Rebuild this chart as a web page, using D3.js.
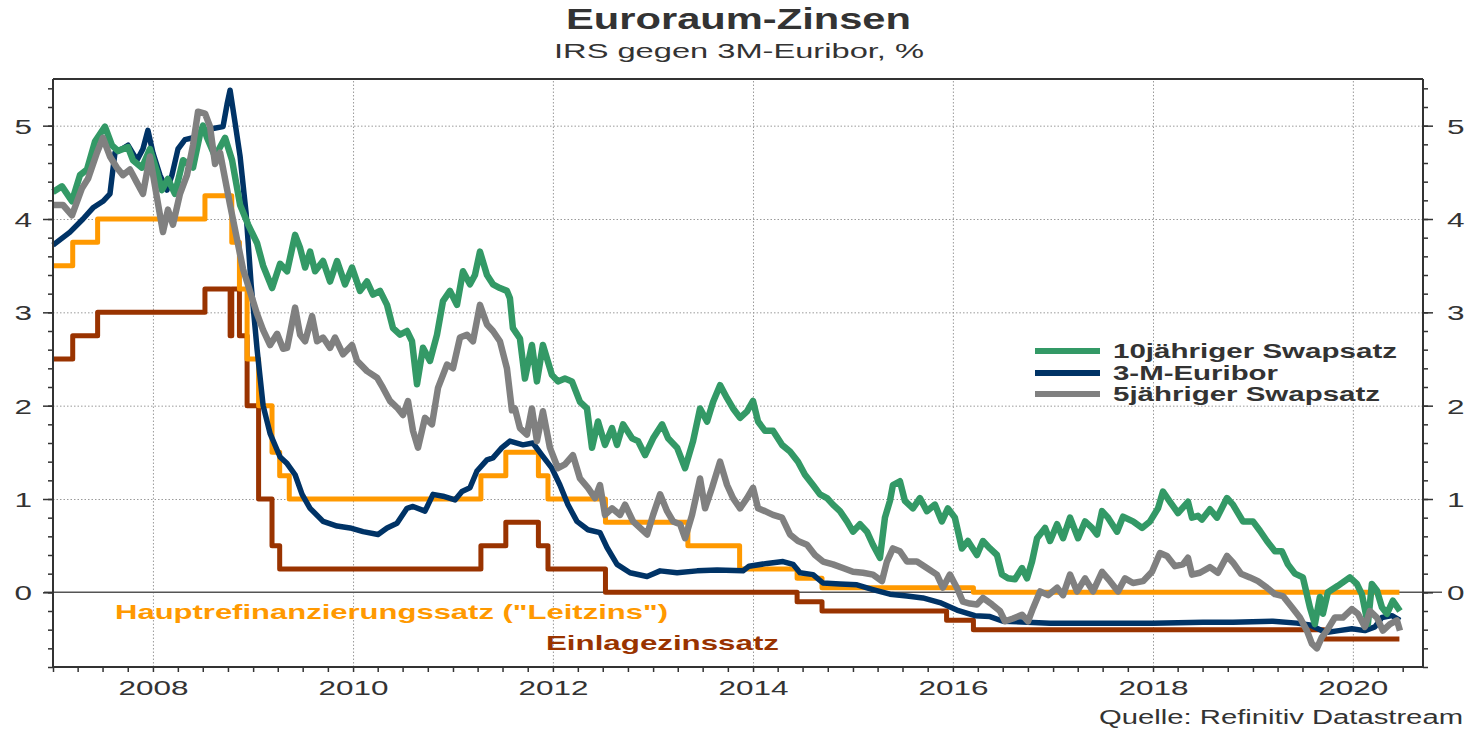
<!DOCTYPE html>
<html><head><meta charset="utf-8">
<script src="https://cdn.jsdelivr.net/npm/d3@7"></script>
<style>
body{margin:0;background:#fff;}
svg{display:block;font-family:"Liberation Sans",Arial,Helvetica,sans-serif;}
</style></head><body>
<svg id="c" width="1473" height="730"></svg>
<script>
// ---------- DATA (decimal year, % ) ----------
const swap10 = [[2007.00,4.29],[2007.09,4.35],[2007.19,4.19],[2007.27,4.47],[2007.34,4.53],[2007.42,4.83],[2007.52,4.99],[2007.59,4.79],[2007.65,4.73],[2007.75,4.77],[2007.80,4.63],[2007.89,4.55],[2007.97,4.75],[2008.04,4.51],[2008.09,4.31],[2008.15,4.43],[2008.22,4.27],[2008.30,4.63],[2008.40,4.55],[2008.47,4.91],[2008.50,5.00],[2008.54,4.87],[2008.62,4.67],[2008.72,4.87],[2008.79,4.63],[2008.87,4.15],[2008.95,3.94],[2009.04,3.74],[2009.10,3.50],[2009.19,3.26],[2009.27,3.52],[2009.34,3.44],[2009.42,3.83],[2009.47,3.69],[2009.52,3.48],[2009.57,3.65],[2009.62,3.44],[2009.70,3.55],[2009.77,3.33],[2009.84,3.55],[2009.92,3.30],[2009.99,3.48],[2010.07,3.23],[2010.14,3.33],[2010.20,3.19],[2010.27,3.23],[2010.34,3.08],[2010.40,2.83],[2010.47,2.76],[2010.54,2.80],[2010.59,2.69],[2010.64,2.23],[2010.70,2.62],[2010.77,2.48],[2010.84,2.76],[2010.90,3.12],[2010.97,3.23],[2011.04,3.08],[2011.10,3.44],[2011.17,3.30],[2011.22,3.40],[2011.27,3.65],[2011.34,3.40],[2011.40,3.30],[2011.47,3.26],[2011.54,3.23],[2011.57,3.15],[2011.60,2.83],[2011.67,2.72],[2011.72,2.29],[2011.79,2.65],[2011.84,2.26],[2011.90,2.65],[2011.99,2.33],[2012.05,2.26],[2012.12,2.29],[2012.19,2.26],[2012.27,2.04],[2012.34,1.97],[2012.39,1.55],[2012.45,1.83],[2012.52,1.58],[2012.59,1.76],[2012.64,1.58],[2012.70,1.80],[2012.79,1.65],[2012.85,1.62],[2012.92,1.47],[2013.00,1.65],[2013.09,1.80],[2013.15,1.65],[2013.24,1.55],[2013.32,1.33],[2013.40,1.62],[2013.47,1.97],[2013.54,1.83],[2013.60,2.04],[2013.67,2.22],[2013.74,2.08],[2013.80,1.97],[2013.87,1.87],[2013.94,1.94],[2014.00,2.05],[2014.05,1.83],[2014.12,1.73],[2014.20,1.73],[2014.29,1.58],[2014.37,1.51],[2014.45,1.40],[2014.52,1.26],[2014.60,1.15],[2014.67,1.05],[2014.74,1.01],[2014.80,0.94],[2014.87,0.87],[2014.94,0.76],[2015.00,0.65],[2015.07,0.73],[2015.14,0.65],[2015.20,0.51],[2015.27,0.37],[2015.32,0.80],[2015.37,0.98],[2015.40,1.15],[2015.47,1.19],[2015.52,0.98],[2015.60,0.90],[2015.67,1.01],[2015.74,0.87],[2015.82,0.94],[2015.89,0.76],[2015.95,0.90],[2016.02,0.80],[2016.09,0.47],[2016.15,0.55],[2016.24,0.40],[2016.30,0.55],[2016.37,0.47],[2016.44,0.40],[2016.49,0.19],[2016.55,0.15],[2016.62,0.14],[2016.69,0.26],[2016.74,0.15],[2016.79,0.33],[2016.84,0.58],[2016.92,0.69],[2016.97,0.55],[2017.04,0.73],[2017.10,0.58],[2017.17,0.80],[2017.25,0.58],[2017.32,0.76],[2017.39,0.69],[2017.44,0.62],[2017.49,0.87],[2017.55,0.80],[2017.64,0.65],[2017.70,0.81],[2017.80,0.76],[2017.89,0.69],[2017.97,0.76],[2018.05,0.90],[2018.10,1.08],[2018.17,0.97],[2018.25,0.85],[2018.35,0.97],[2018.39,0.80],[2018.45,0.82],[2018.49,0.78],[2018.57,0.89],[2018.64,0.80],[2018.74,1.01],[2018.80,0.94],[2018.90,0.76],[2019.00,0.76],[2019.07,0.66],[2019.14,0.55],[2019.22,0.44],[2019.29,0.44],[2019.35,0.30],[2019.42,0.20],[2019.50,0.16],[2019.57,-0.16],[2019.62,-0.34],[2019.67,-0.05],[2019.70,-0.23],[2019.75,0.00],[2019.85,0.07],[2019.97,0.16],[2020.04,0.09],[2020.09,-0.02],[2020.15,-0.34],[2020.19,0.09],[2020.24,0.02],[2020.29,-0.16],[2020.34,-0.23],[2020.40,-0.09],[2020.47,-0.20]];

const swap5 = [[2007.00,4.15],[2007.10,4.15],[2007.19,4.04],[2007.29,4.33],[2007.35,4.43],[2007.44,4.71],[2007.50,4.87],[2007.57,4.67],[2007.64,4.55],[2007.70,4.47],[2007.77,4.53],[2007.84,4.39],[2007.90,4.27],[2007.97,4.67],[2008.04,4.23],[2008.10,3.86],[2008.15,4.10],[2008.20,3.94],[2008.27,4.27],[2008.34,4.47],[2008.40,4.79],[2008.45,5.15],[2008.52,5.13],[2008.57,4.99],[2008.62,4.59],[2008.67,4.71],[2008.72,4.43],[2008.77,4.15],[2008.84,3.78],[2008.90,3.46],[2008.97,3.22],[2009.04,2.98],[2009.10,2.81],[2009.17,2.65],[2009.24,2.77],[2009.30,2.61],[2009.34,2.62],[2009.42,3.05],[2009.47,2.76],[2009.52,2.69],[2009.59,2.96],[2009.64,2.69],[2009.70,2.73],[2009.77,2.62],[2009.82,2.73],[2009.90,2.55],[2009.99,2.65],[2010.04,2.48],[2010.14,2.37],[2010.24,2.30],[2010.30,2.19],[2010.37,2.05],[2010.44,1.98],[2010.50,1.90],[2010.55,2.05],[2010.60,1.73],[2010.65,1.55],[2010.72,1.87],[2010.79,1.80],[2010.85,2.19],[2010.94,2.44],[2011.00,2.40],[2011.07,2.73],[2011.14,2.76],[2011.20,2.69],[2011.27,3.08],[2011.34,2.87],[2011.40,2.80],[2011.47,2.69],[2011.54,2.40],[2011.59,1.95],[2011.62,1.97],[2011.67,1.76],[2011.74,1.69],[2011.79,1.97],[2011.84,1.62],[2011.90,1.94],[2011.97,1.55],[2012.05,1.33],[2012.12,1.37],[2012.20,1.47],[2012.27,1.22],[2012.35,1.12],[2012.42,1.01],[2012.47,1.15],[2012.52,0.83],[2012.59,0.90],[2012.67,0.83],[2012.72,0.94],[2012.80,0.76],[2012.87,0.69],[2012.94,0.62],[2013.00,0.83],[2013.07,1.05],[2013.14,0.87],[2013.20,0.76],[2013.27,0.73],[2013.32,0.58],[2013.39,0.83],[2013.47,1.22],[2013.52,0.90],[2013.59,1.12],[2013.67,1.40],[2013.74,1.15],[2013.80,1.01],[2013.87,0.90],[2013.94,1.01],[2014.00,1.12],[2014.05,0.90],[2014.12,0.87],[2014.20,0.83],[2014.29,0.80],[2014.37,0.62],[2014.45,0.55],[2014.54,0.51],[2014.62,0.40],[2014.70,0.33],[2014.80,0.30],[2014.90,0.26],[2015.00,0.22],[2015.10,0.21],[2015.20,0.19],[2015.29,0.12],[2015.34,0.33],[2015.40,0.47],[2015.47,0.44],[2015.54,0.33],[2015.64,0.33],[2015.74,0.26],[2015.84,0.19],[2015.90,0.05],[2015.97,0.19],[2016.04,0.05],[2016.10,-0.10],[2016.17,-0.12],[2016.24,-0.13],[2016.30,-0.06],[2016.39,-0.13],[2016.47,-0.20],[2016.52,-0.31],[2016.60,-0.28],[2016.69,-0.24],[2016.75,-0.31],[2016.80,-0.17],[2016.87,0.01],[2016.95,-0.03],[2017.04,0.05],[2017.10,-0.03],[2017.17,0.19],[2017.24,0.01],[2017.32,0.15],[2017.40,0.01],[2017.49,0.22],[2017.57,0.12],[2017.65,0.01],[2017.72,0.15],[2017.80,0.10],[2017.90,0.12],[2017.99,0.22],[2018.07,0.42],[2018.14,0.39],[2018.22,0.28],[2018.30,0.30],[2018.35,0.37],[2018.39,0.19],[2018.47,0.21],[2018.57,0.27],[2018.65,0.21],[2018.74,0.39],[2018.80,0.32],[2018.88,0.20],[2018.97,0.16],[2019.05,0.12],[2019.14,0.05],[2019.22,-0.02],[2019.30,-0.04],[2019.39,-0.16],[2019.47,-0.27],[2019.54,-0.41],[2019.59,-0.55],[2019.64,-0.60],[2019.69,-0.48],[2019.74,-0.41],[2019.82,-0.27],[2019.90,-0.27],[2019.99,-0.18],[2020.05,-0.23],[2020.12,-0.37],[2020.17,-0.20],[2020.24,-0.27],[2020.30,-0.41],[2020.37,-0.34],[2020.44,-0.30],[2020.47,-0.41]];

const euribor3m = [[2007.00,3.72],[2007.17,3.86],[2007.30,4.00],[2007.40,4.12],[2007.50,4.19],[2007.57,4.27],[2007.62,4.71],[2007.69,4.75],[2007.75,4.79],[2007.84,4.63],[2007.90,4.75],[2007.95,4.95],[2008.00,4.71],[2008.07,4.47],[2008.14,4.31],[2008.19,4.47],[2008.25,4.75],[2008.32,4.85],[2008.40,4.87],[2008.50,4.95],[2008.60,4.97],[2008.70,4.99],[2008.74,5.23],[2008.77,5.38],[2008.82,5.03],[2008.87,4.67],[2008.93,4.06],[2008.98,3.30],[2009.04,2.60],[2009.10,2.00],[2009.17,1.70],[2009.27,1.45],[2009.34,1.38],[2009.42,1.26],[2009.49,1.05],[2009.57,0.90],[2009.70,0.76],[2009.84,0.71],[2009.97,0.69],[2010.10,0.65],[2010.25,0.62],[2010.34,0.69],[2010.44,0.74],[2010.54,0.90],[2010.60,0.92],[2010.72,0.87],[2010.80,1.05],[2010.90,1.03],[2011.02,0.99],[2011.09,1.08],[2011.17,1.12],[2011.24,1.30],[2011.34,1.42],[2011.40,1.44],[2011.49,1.55],[2011.57,1.62],[2011.70,1.58],[2011.80,1.60],[2011.89,1.47],[2011.99,1.33],[2012.07,1.15],[2012.15,0.94],[2012.24,0.76],[2012.35,0.67],[2012.47,0.64],[2012.54,0.48],[2012.64,0.30],[2012.77,0.21],[2012.94,0.17],[2013.07,0.23],[2013.24,0.21],[2013.44,0.23],[2013.64,0.24],[2013.90,0.23],[2013.96,0.28],[2014.14,0.31],[2014.30,0.33],[2014.40,0.30],[2014.47,0.21],[2014.60,0.19],[2014.70,0.10],[2014.87,0.09],[2015.04,0.08],[2015.20,0.03],[2015.37,-0.02],[2015.54,-0.04],[2015.70,-0.06],[2015.87,-0.11],[2016.04,-0.19],[2016.22,-0.25],[2016.37,-0.26],[2016.50,-0.31],[2016.97,-0.33],[2018.00,-0.33],[2018.50,-0.32],[2018.80,-0.32],[2019.20,-0.31],[2019.44,-0.33],[2019.57,-0.35],[2019.73,-0.43],[2019.86,-0.41],[2019.99,-0.39],[2020.12,-0.41],[2020.22,-0.37],[2020.29,-0.27],[2020.39,-0.25],[2020.47,-0.30]];

// ECB policy rates (step series)
const mroDates  = ['2007-01-01','2007-03-14','2007-06-13','2008-07-09','2008-10-15','2008-11-12','2008-12-10','2009-01-21','2009-03-11','2009-04-08','2009-05-13','2011-04-13','2011-07-13','2011-11-09','2011-12-14','2012-07-11','2013-05-08','2013-11-13','2014-06-11','2014-09-10','2016-03-16','2020-06-19'];
const mroValues = [3.50,3.75,4.00,4.25,3.75,3.25,2.50,2.00,1.50,1.25,1.00,1.25,1.50,1.25,1.00,0.75,0.50,0.25,0.15,0.05,0.00,0.00];
const depoDates  = ['2007-01-01','2007-03-14','2007-06-13','2008-07-09','2008-10-09','2008-10-15','2008-11-12','2008-12-10','2009-01-21','2009-03-11','2009-04-08','2011-04-13','2011-07-13','2011-11-09','2011-12-14','2012-07-11','2014-06-11','2014-09-10','2015-12-09','2016-03-16','2019-09-18','2020-06-19'];
const depoValues = [2.50,2.75,3.00,3.25,2.75,3.25,2.75,2.00,1.00,0.50,0.25,0.50,0.75,0.50,0.25,0.00,-0.10,-0.20,-0.30,-0.40,-0.50,-0.50];

const yTicksMajor = [0,1,2,3,4,5];
const yGrid = [1,2,3,4,5];
const xLabelYears = [2008,2010,2012,2014,2016,2018,2020];

const seriesNames = ['10jähriger Swapsatz','3-M-Euribor','5jähriger Swapsatz'];
const titleText = 'Euroraum-Zinsen';
const subtitleText = 'IRS gegen 3M-Euribor, %';
const mroLabel = 'Hauptrefinanzierungssatz ("Leitzins")';
const depoLabel = 'Einlagezinssatz';
const sourceText = 'Quelle: Refinitiv Datastream';

// ---------- CHART ----------
const C = {green:'#339966', navy:'#003366', gray:'#808080', orange:'#FF9900', brown:'#993300', text:'#333333', axis:'#333333'};
const svg = d3.select('#c');
const m = {l:53, r:1423, t:79, b:667};
const SX = 1.5; // horizontal text stretch of the original

function dy(v){const yr=Math.floor(v);const s=Date.UTC(yr,0,1),e=Date.UTC(yr+1,0,1);return new Date(s+(v-yr)*(e-s));}
const parse = d3.utcParse('%Y-%m-%d');

const x = d3.scaleUtc().domain([new Date(Date.UTC(2007,0,1)), dy(2020.7)]).range([m.l, m.r]);
const y = d3.scaleLinear().domain([-0.8, 5.5]).range([m.b, m.t]);

// grid
svg.append('g').attr('transform',`translate(0,${m.b})`)
  .call(d3.axisBottom(x).tickValues(xLabelYears.map(v=>new Date(Date.UTC(v,0,1)))).tickSize(-(m.b-m.t)).tickFormat(''))
  .call(g=>g.select('.domain').remove())
  .selectAll('line').attr('stroke','#9a9a9a').attr('stroke-width',1).attr('stroke-dasharray','1.5,2');
svg.append('g').attr('transform',`translate(${m.l},0)`)
  .call(d3.axisLeft(y).tickValues(yGrid).tickSize(-(m.r-m.l)).tickFormat(''))
  .call(g=>g.select('.domain').remove())
  .selectAll('line').attr('stroke','#9a9a9a').attr('stroke-width',1).attr('stroke-dasharray','1.5,2');

// zero line
svg.append('line').attr('x1',m.l-9).attr('x2',m.r+19).attr('y1',y(0)).attr('y2',y(0))
  .attr('stroke','#555').attr('stroke-width',1.5);

// lines
const lineDec = d3.line().x(d=>x(dy(d[0]))).y(d=>y(d[1]));
const lineStep = d3.line().x(d=>x(d[0])).y(d=>y(d[1])).curve(d3.curveStepAfter);
const depo = depoDates.map((d,i)=>[parse(d), depoValues[i]]);
const mro = mroDates.map((d,i)=>[parse(d), mroValues[i]]);

function draw(path, color, w){
  svg.append('path').attr('d',path).attr('fill','none').attr('stroke',color)
    .attr('stroke-width',w).attr('stroke-linejoin','round').attr('stroke-linecap','butt');
}
draw(lineStep(depo), C.brown, 5);
draw(lineStep(mro), C.orange, 5);
draw(lineDec(euribor3m), C.navy, 5.5);
draw(lineDec(swap10), C.green, 6.5);
draw(lineDec(swap5), C.gray, 6.5);

// axes
function styleAxis(g){ g.selectAll('line').attr('stroke',C.axis).attr('stroke-width',1.5); g.select('.domain').remove(); }
const minorY = d3.range(-8,56,2).map(v=>v/10);
svg.append('g').attr('transform',`translate(${m.l},0)`).call(d3.axisLeft(y).tickValues(minorY).tickSize(5).tickFormat('')).call(styleAxis);
svg.append('g').attr('transform',`translate(${m.r},0)`).call(d3.axisRight(y).tickValues(minorY).tickSize(5).tickFormat('')).call(styleAxis);
const gl = svg.append('g').attr('transform',`translate(${m.l},0)`).call(d3.axisLeft(y).tickValues(yTicksMajor).tickSize(10).tickFormat(d3.format('d'))).call(styleAxis);
const gr = svg.append('g').attr('transform',`translate(${m.r},0)`).call(d3.axisRight(y).tickValues(yTicksMajor).tickSize(10).tickFormat(d3.format('d'))).call(styleAxis);
[gl,gr].forEach((g,i)=>g.selectAll('text').attr('x', i===0 ? -21/SX : 24/SX).attr('dy','0.36em')
  .attr('transform',`scale(${SX},1)`).attr('fill',C.text).style('font-size','21px').style('font-family','"Liberation Sans",Arial,sans-serif'));

svg.append('g').attr('transform',`translate(0,${m.b})`).call(d3.axisBottom(x).ticks(d3.utcMonth.every(3)).tickSize(5).tickFormat('')).call(styleAxis);
const gx = svg.append('g').attr('transform',`translate(0,${m.b})`)
  .call(d3.axisBottom(x).tickValues(xLabelYears.map(v=>new Date(Date.UTC(v,0,1)))).tickSize(0).tickFormat(d3.utcFormat('%Y'))).call(styleAxis);
gx.selectAll('text').attr('y',28).attr('dy',0).attr('transform',`scale(${SX},1)`).attr('fill',C.text)
  .style('font-size','21px').style('font-family','"Liberation Sans",Arial,sans-serif');

// frame
const fr = svg.append('g').attr('stroke',C.axis).attr('stroke-width',2);
fr.append('line').attr('x1',m.l).attr('x2',m.l).attr('y1',m.t).attr('y2',m.b+1);
fr.append('line').attr('x1',m.r).attr('x2',m.r).attr('y1',m.t).attr('y2',m.b+1);
fr.append('line').attr('x1',m.l).attr('x2',m.r).attr('y1',m.b).attr('y2',m.b);
fr.append('line').attr('x1',m.l).attr('x2',m.r).attr('y1',m.t).attr('y2',m.t);

// texts
function txt(s, xx, yy, len, size, weight, color){
  return svg.append('text').attr('x',xx).attr('y',yy).text(s)
    .attr('textLength',len).attr('lengthAdjust','spacingAndGlyphs')
    .style('font-size',size+'px').style('font-weight',weight).attr('fill',color);
}
txt(titleText, 566, 29, 345, 29, 'bold', C.text);
txt(subtitleText, 554, 58, 370, 21, 'normal', C.text);
txt(mroLabel, 115, 619, 553, 21, 'bold', C.orange);
txt(depoLabel, 546, 650, 233, 21, 'bold', C.brown);
txt(sourceText, 1099, 724, 364, 20, 'normal', C.text);

// legend
const legColors = [C.green, C.navy, C.gray];
const legY = [351, 373, 394];
const legLen = [284, 165, 267];
seriesNames.forEach((n,i)=>{
  svg.append('line').attr('x1',1035).attr('x2',1100).attr('y1',legY[i]).attr('y2',legY[i]).attr('stroke',legColors[i]).attr('stroke-width',6);
  txt(n, 1113, legY[i]+7, legLen[i], 20, 'bold', C.text);
});
</script>
</body></html>
